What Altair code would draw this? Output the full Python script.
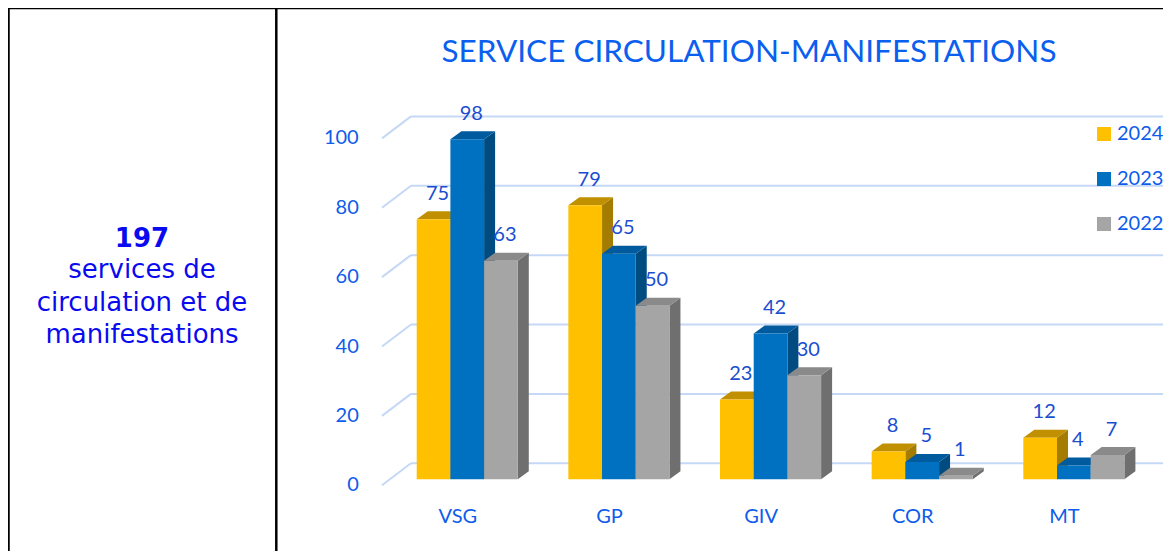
import altair as alt
import pandas as pd

# ---------------- data ----------------
categories = ["VSG", "GP", "GIV", "COR", "MT"]
series = ["2024", "2023", "2022"]
values_2024 = [75, 79, 23, 8, 12]
values_2023 = [98, 65, 42, 5, 4]
values_2022 = [63, 50, 30, 1, 7]
y_ticks = [0, 20, 40, 60, 80, 100]
title_text = "SERVICE CIRCULATION-MANIFESTATIONS"
side_number = "197"
side_text = "services de\ncirculation et de\nmanifestations"

# ---------------- styles ----------------
front_colors = ["#FFC000", "#0070C0", "#A5A5A5"]
top_colors = ["#C09000", "#005A9E", "#8A8A8A"]
side_colors = ["#A37C00", "#004B80", "#6F6F6F"]
grid_color = "#C5D8F6"
axis_blue = "#0D5CEB"
label_blue = "#1A4ECF"
FONT = "Lato"

# ---------------- layout (pixels) ----------------
W, H = 1155, 543
PX_U, X0 = 33.7, 408.7     # px per bar width, chart x of first bar
PX_V, Y0 = 3.469, 471.3    # px per unit value, chart y of value 0
x_dom = [-X0 / PX_U, (W - X0) / PX_U]
y_dom = [(Y0 - H) / PX_V, Y0 / PX_V]
xs = alt.Scale(domain=x_dom, nice=False, zero=False)
ys = alt.Scale(domain=y_dom, nice=False, zero=False)

GROUP = 4.5                 # group spacing in bar widths
DU, DV = 11 / PX_U, 8 / PX_V           # bar depth
WALL_DV = 16 / PX_V                      # back wall shift
FRONT_DV = -6 / PX_V                     # front edge of diagonals
DIAG_U0, WALL_U0 = -1.03, -0.17
LABEL_DV = 25.5 / PX_V
LABEL_DU = 4 / PX_U

vals = {"2024": values_2024, "2023": values_2023, "2022": values_2022}

fronts, tops, sides, labels = [], [], [], []
for i, cat in enumerate(categories):
    for j, s in enumerate(series):
        v = vals[s][i]
        uL = i * GROUP + j
        uR = uL + 1
        key = f"{cat}-{s}"
        fronts.append(dict(series=s, x=uL, x2=uR, y=0, y2=v))
        tops.append(dict(series=s, key=key, yy=v, xa=uL, xb=uR))
        tops.append(dict(series=s, key=key, yy=v + DV, xa=uL + DU, xb=uR + DU))
        sides.append(dict(series=s, key=key, xs=uR, ya=0, yb=v))
        sides.append(dict(series=s, key=key, xs=uR + DU, ya=DV, yb=v + DV))
        labels.append(dict(x=uL + 0.5 + LABEL_DU, y=v + LABEL_DV, t=str(v)))

grid = pd.DataFrame([
    dict(t=t, ya=t + FRONT_DV, yb=t + WALL_DV, xa=DIAG_U0, xb=WALL_U0, xe=x_dom[1])
    for t in y_ticks
])
catdf = pd.DataFrame([
    dict(c=c, x=i * GROUP + 1.5 - 0.28, y=-10.87) for i, c in enumerate(categories)
])

diag = alt.Chart(grid).mark_rule(color=grid_color, strokeWidth=2).encode(
    x=alt.X("xa:Q", scale=xs, axis=None), y=alt.Y("ya:Q", scale=ys, axis=None),
    x2="xb:Q", y2="yb:Q")
wall = alt.Chart(grid).mark_rule(color=grid_color, strokeWidth=2).encode(
    x=alt.X("xb:Q", scale=xs, axis=None), y=alt.Y("yb:Q", scale=ys, axis=None),
    x2="xe:Q")
ylab = alt.Chart(grid).mark_text(align="right", baseline="middle", font=FONT,
                                  fontSize=20, color=axis_blue).encode(
    x=alt.value(X0 + PX_U * (-1.72)), y=alt.Y("ya:Q", scale=ys, axis=None),
    text="t:Q")

side_layer = alt.Chart(pd.DataFrame(sides)).mark_area(orient="vertical", opacity=1).encode(
    x=alt.X("xs:Q", scale=xs, axis=None), y=alt.Y("ya:Q", scale=ys, axis=None),
    y2="yb:Q", detail="key:N",
    color=alt.Color("series:N", scale=alt.Scale(domain=series, range=side_colors), legend=None))
top_layer = alt.Chart(pd.DataFrame(tops)).mark_area(orient="horizontal", opacity=1).encode(
    y=alt.Y("yy:Q", scale=ys, axis=None), x=alt.X("xa:Q", scale=xs, axis=None),
    x2="xb:Q", detail="key:N",
    color=alt.Color("series:N", scale=alt.Scale(domain=series, range=top_colors), legend=None))
front_layer = alt.Chart(pd.DataFrame(fronts)).mark_rect(opacity=1).encode(
    x=alt.X("x:Q", scale=xs, axis=None), x2="x2:Q",
    y=alt.Y("y:Q", scale=ys, axis=None), y2="y2:Q",
    color=alt.Color("series:N", scale=alt.Scale(domain=series, range=front_colors),
                    sort=series,
                    legend=alt.Legend(title=None, orient="none", legendX=1086, legendY=116,
                                      symbolType="square", symbolSize=196,
                                      symbolStrokeWidth=0, labelFont=FONT,
                                      labelFontSize=20, labelColor=axis_blue,
                                      labelOffset=3, rowPadding=25)))
val_layer = alt.Chart(pd.DataFrame(labels)).mark_text(
    baseline="middle", align="center", font=FONT, fontSize=20, color=label_blue).encode(
    x=alt.X("x:Q", scale=xs, axis=None), y=alt.Y("y:Q", scale=ys, axis=None), text="t:N")
cat_layer = alt.Chart(catdf).mark_text(
    baseline="middle", align="center", font=FONT, fontSize=20, color=axis_blue).encode(
    x=alt.X("x:Q", scale=xs, axis=None), y=alt.Y("y:Q", scale=ys, axis=None), text="c:N")

title_layer = alt.Chart(pd.DataFrame({"t": [title_text]})).mark_text(
    align="center", baseline="middle", font=FONT, fontSize=31.5, color="#0B5FEF").encode(
    x=alt.value(741), y=alt.value(45), text="t:N")

num_layer = alt.Chart(pd.DataFrame({"t": [side_number]})).mark_text(
    align="center", baseline="alphabetic", font="DejaVu Sans", fontSize=26,
    fontWeight="bold", color="#0A0AF0").encode(
    x=alt.value(134), y=alt.value(238.7), text="t:N")
txt_layer = alt.Chart(pd.DataFrame({"t": [side_text]})).mark_text(
    align="center", baseline="alphabetic", font="DejaVu Sans", fontSize=26,
    lineBreak="\n", lineHeight=32.5, color="#0A0AF0").encode(
    x=alt.value(134), y=alt.value(270.3), text="t:N")

b1 = alt.Chart(pd.DataFrame({"a": [0]})).mark_rule(color="black", strokeWidth=2.5).encode(
    x=alt.value(0.5), y=alt.value(0), y2=alt.value(H))
b2 = alt.Chart(pd.DataFrame({"a": [0]})).mark_rule(color="black", strokeWidth=2.5).encode(
    x=alt.value(268.3), y=alt.value(0), y2=alt.value(H))
b3 = alt.Chart(pd.DataFrame({"a": [0]})).mark_rule(color="black", strokeWidth=2).encode(
    x=alt.value(0), x2=alt.value(W), y=alt.value(0.2))

chart = alt.layer(
    diag, wall, ylab, side_layer, top_layer, front_layer, val_layer, cat_layer,
    title_layer, num_layer, txt_layer, b1, b2, b3
).resolve_scale(color="independent").properties(
    width=W, height=H, padding=0, autosize=alt.AutoSizeParams(type="none")
).configure_view(stroke=None)

chart.save("out.html", embed_options={"renderer": "svg", "actions": False})
